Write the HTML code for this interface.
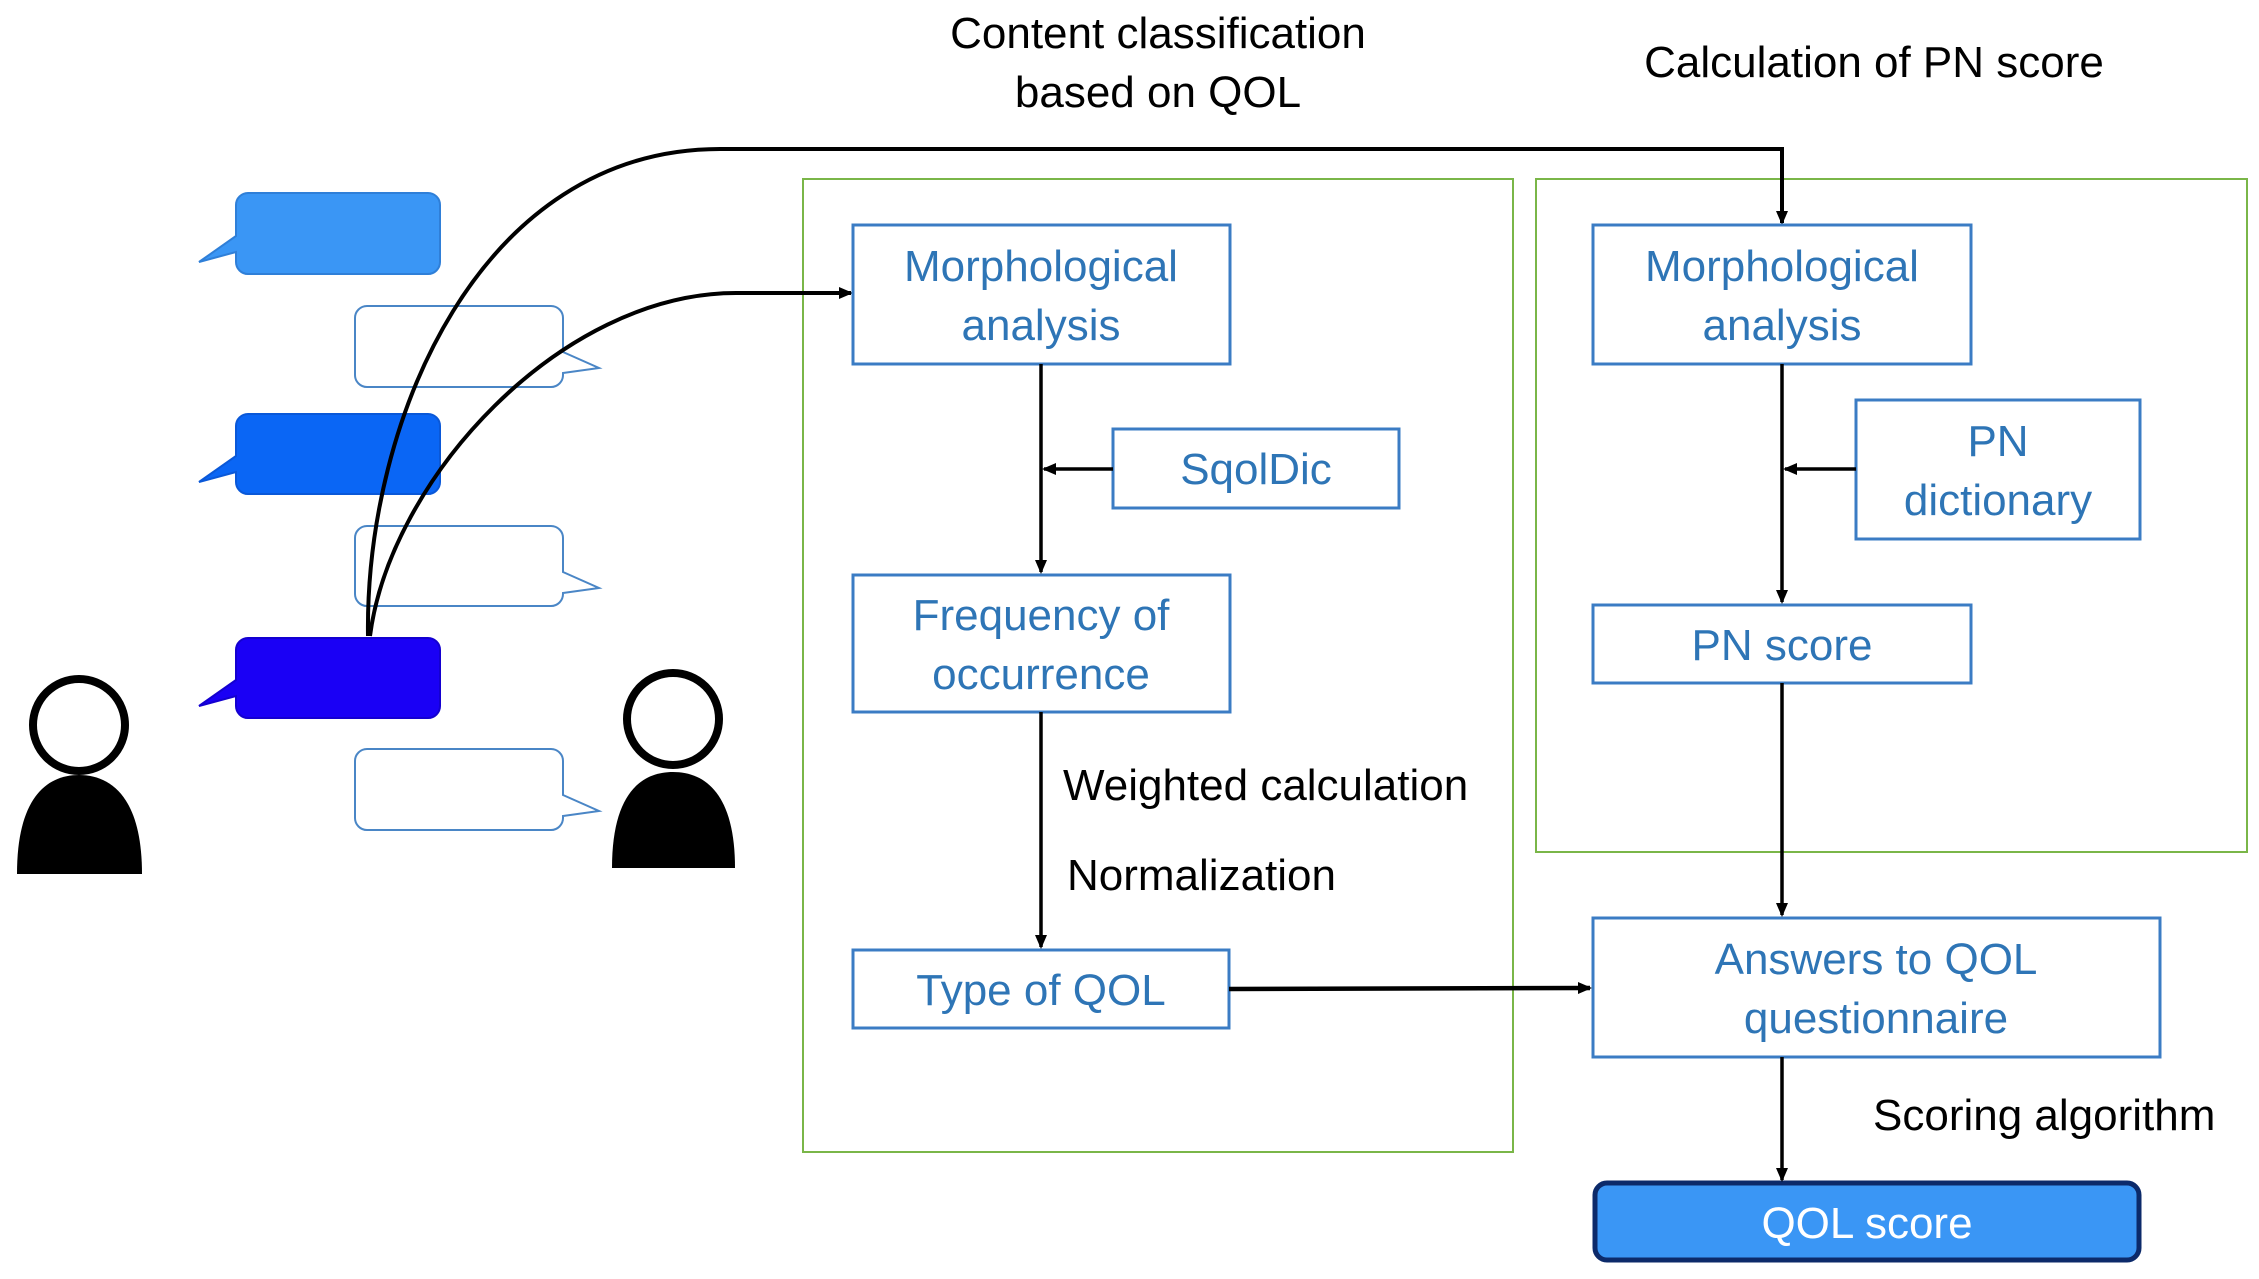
<!DOCTYPE html>
<html><head><meta charset="utf-8"><style>
html,body{margin:0;padding:0;background:#fff;}
body{width:2259px;height:1279px;overflow:hidden;position:relative;font-family:"Liberation Sans",sans-serif;}
</style></head><body>
<svg width="2259" height="1279" viewBox="0 0 2259 1279" xmlns="http://www.w3.org/2000/svg" style="position:absolute;left:0;top:0">
<defs>
<marker id="ah" markerWidth="14" markerHeight="14" refX="12" refY="7" orient="auto" markerUnits="userSpaceOnUse">
<path d="M0,1 L14,7 L0,13 z" fill="#000"/></marker>
</defs>
<g font-family="Liberation Sans, sans-serif" text-anchor="middle">
<text x="1158" y="48" font-size="44" fill="#000">Content classification</text>
<text x="1158" y="107" font-size="44" fill="#000">based on QOL</text>
<text x="1874" y="77" font-size="44" fill="#000">Calculation of PN score</text>
</g>
<rect x="803" y="179" width="710" height="973" fill="none" stroke="#7ab648" stroke-width="2"/>
<rect x="1536" y="179" width="711" height="673" fill="none" stroke="#7ab648" stroke-width="2"/>
<g>
<path d="M248,193 H428 a12,12 0 0 1 12,12 V262 a12,12 0 0 1 -12,12 H248 a12,12 0 0 1 -12,-12 V252 L199,262 L236,236 V205 a12,12 0 0 1 12,-12z" fill="#3a96f5" stroke="#2f7fd8" stroke-width="2"/>
<path d="M248,414 H428 a12,12 0 0 1 12,12 V482 a12,12 0 0 1 -12,12 H248 a12,12 0 0 1 -12,-12 V472 L199,482 L236,456 V426 a12,12 0 0 1 12,-12z" fill="#0a66f5" stroke="#0a58d8" stroke-width="2"/>
<path d="M248,638 H428 a12,12 0 0 1 12,12 V706 a12,12 0 0 1 -12,12 H248 a12,12 0 0 1 -12,-12 V696 L199,706 L236,680 V650 a12,12 0 0 1 12,-12z" fill="#1a00f5" stroke="#1400d0" stroke-width="2"/>
<path d="M367,306 H551 a12,12 0 0 1 12,12 V352 L599,368 L563,373 V375 a12,12 0 0 1 -12,12 H367 a12,12 0 0 1 -12,-12 V318 a12,12 0 0 1 12,-12z" fill="#fff" stroke="#4a86c6" stroke-width="2"/>
<path d="M367,526 H551 a12,12 0 0 1 12,12 V572 L599,588 L563,593 V594 a12,12 0 0 1 -12,12 H367 a12,12 0 0 1 -12,-12 V538 a12,12 0 0 1 12,-12z" fill="#fff" stroke="#4a86c6" stroke-width="2"/>
<path d="M367,749 H551 a12,12 0 0 1 12,12 V795 L599,811 L563,816 V818 a12,12 0 0 1 -12,12 H367 a12,12 0 0 1 -12,-12 V761 a12,12 0 0 1 12,-12z" fill="#fff" stroke="#4a86c6" stroke-width="2"/>
</g>
<circle cx="79" cy="725" r="46" fill="#fff" stroke="#000" stroke-width="8"/>
<path d="M17,874 C17,800 45,775 79,775 C113,775 142,800 142,874 z" fill="#000"/>
<circle cx="673" cy="719" r="46" fill="#fff" stroke="#000" stroke-width="8"/>
<path d="M612,868 C612,795 640,772 673,772 C706,772 735,795 735,868 z" fill="#000"/>
<path d="M368,636 C365,420 480,149 720,149 H1782 V223" fill="none" stroke="#000" stroke-width="4" marker-end="url(#ah)"/>
<path d="M370,636 C390,480 560,293 736,293 H851" fill="none" stroke="#000" stroke-width="4" marker-end="url(#ah)"/>
<g fill="#fff" stroke="#3b7cc4" stroke-width="3">
<rect x="853" y="225" width="377" height="139"/>
<rect x="1113" y="429" width="286" height="79"/>
<rect x="853" y="575" width="377" height="137"/>
<rect x="853" y="950" width="376" height="78"/>
<rect x="1593" y="225" width="378" height="139"/>
<rect x="1856" y="400" width="284" height="139"/>
<rect x="1593" y="605" width="378" height="78"/>
<rect x="1593" y="918" width="567" height="139"/>
</g>
<rect x="1595" y="1183" width="544" height="77" rx="12" fill="#3a96f5" stroke="#0c2a6a" stroke-width="5"/>
<g stroke="#000" stroke-width="3.5" fill="none">
<line x1="1041" y1="364" x2="1041" y2="572" marker-end="url(#ah)"/>
<line x1="1113" y1="469" x2="1044" y2="469" marker-end="url(#ah)"/>
<line x1="1041" y1="712" x2="1041" y2="947" marker-end="url(#ah)"/>
<line x1="1782" y1="364" x2="1782" y2="602" marker-end="url(#ah)"/>
<line x1="1856" y1="469" x2="1785" y2="469" marker-end="url(#ah)"/>
<line x1="1782" y1="683" x2="1782" y2="915" marker-end="url(#ah)"/>
<line x1="1229" y1="989" x2="1590" y2="988" stroke-width="4.5" marker-end="url(#ah)"/>
<line x1="1782" y1="1057" x2="1782" y2="1180" marker-end="url(#ah)"/>
</g>
<g font-family="Liberation Sans, sans-serif" font-size="44" fill="#2e75b6" text-anchor="middle">
<text x="1041" y="281">Morphological</text>
<text x="1041" y="340">analysis</text>
<text x="1256" y="484">SqolDic</text>
<text x="1041" y="630">Frequency of</text>
<text x="1041" y="689">occurrence</text>
<text x="1041" y="1005">Type of QOL</text>
<text x="1782" y="281">Morphological</text>
<text x="1782" y="340">analysis</text>
<text x="1998" y="456">PN</text>
<text x="1998" y="515">dictionary</text>
<text x="1782" y="660">PN score</text>
<text x="1876" y="974">Answers to QOL</text>
<text x="1876" y="1033">questionnaire</text>
<text x="1867" y="1238" fill="#fff">QOL score</text>
</g>
<g font-family="Liberation Sans, sans-serif" font-size="44" fill="#000">
<text x="1063" y="800">Weighted calculation</text>
<text x="1067" y="890">Normalization</text>
<text x="1873" y="1130">Scoring algorithm</text>
</g>
</svg>
</body></html>
